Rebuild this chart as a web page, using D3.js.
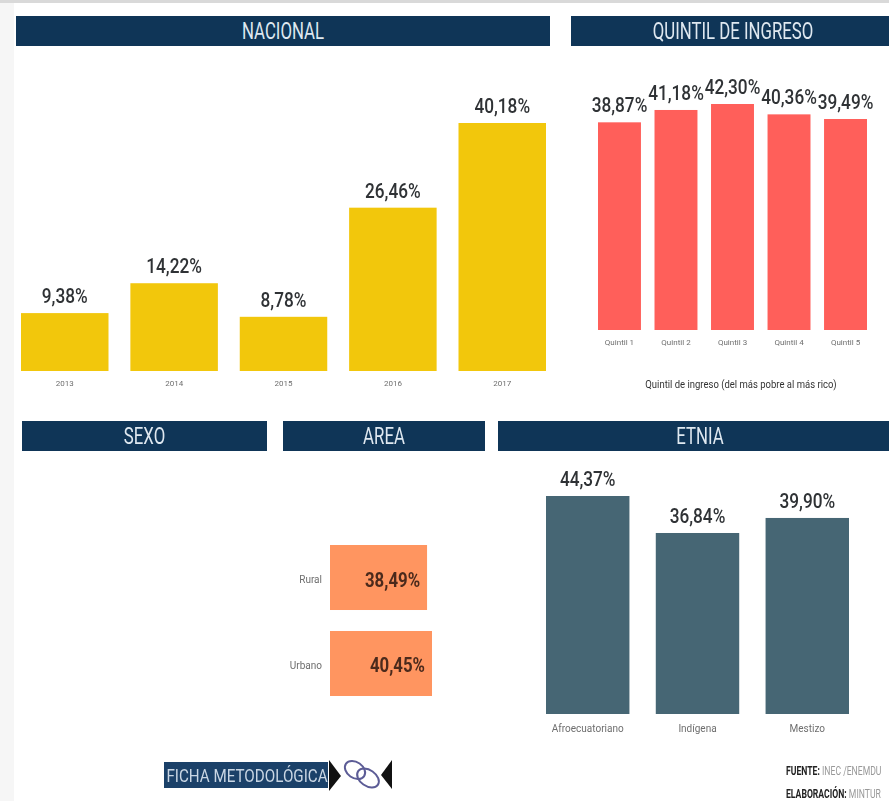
<!DOCTYPE html>
<html>
<head>
<meta charset="utf-8">
<script src="https://cdn.jsdelivr.net/npm/d3@7"></script>
<style>
	html, body { margin: 0; padding: 0; background: #ffffff; overflow: hidden; }
	svg { display: block; filter: blur(0.6px); }
	text { font-family: "Roboto", sans-serif; }
	.domain { display: none; }
</style>
</head>
<body>
<svg id="chart" width="889" height="801"></svg>
<script>
var years = ["2013", "2014", "2015", "2016", "2017"];
var yearValues = [9.38, 14.22, 8.78, 26.46, 40.18];

var quintiles = ["Quintil 1", "Quintil 2", "Quintil 3", "Quintil 4", "Quintil 5"];
var quintileValues = [38.87, 41.18, 42.30, 40.36, 39.49];

var ethnicities = ["Afroecuatoriano", "Indígena", "Mestizo"];
var ethnicityValues = [44.37, 36.84, 39.90];

var areas = ["Rural", "Urbano"];
var areaValues = [38.49, 40.45];

var headers = ["NACIONAL", "QUINTIL DE INGRESO", "SEXO", "AREA", "ETNIA"];

var svg = d3.select("#chart");
var esFormat = d3.formatLocale({ decimal: ",", thousands: ".", grouping: [3], currency: ["$", ""] }).format(".2f");

function percent(v) {
	return esFormat(v) + "%";
}

// The original font is a condensed one, so Roboto gets squeezed horizontally
function squeeze(x, y, ratio) {
	return "translate(" + x + "," + y + ") scale(" + ratio + ",1)";
}

// Page background, the faded strips on the left and top edges
svg.append("rect").attr("x", 0).attr("y", 0).attr("width", 14).attr("height", 801).attr("fill", "#f6f6f6");
svg.append("rect").attr("x", 0).attr("y", 0).attr("width", 889).attr("height", 3).attr("fill", "#d9d9d9");

function drawHeader(label, x, y, width) {
	svg.append("rect")
		.attr("x", x).attr("y", y)
		.attr("width", width).attr("height", 30)
		.attr("fill", "#0f3557");

	svg.append("text")
		.attr("transform", squeeze(x + width / 2, y + 23, 0.73))
		.attr("font-size", "23px")
		.attr("fill", "#dfe8f0")
		.style("text-anchor", "middle")
		.text(label);
}

drawHeader(headers[0], 16, 16, 534);
drawHeader(headers[1], 571, 16, 324);
drawHeader(headers[2], 22, 421, 245);
drawHeader(headers[3], 283, 421, 202);
drawHeader(headers[4], 498, 421, 404);

// Vertical bars with the value on top
function drawColumns(cats, values, left, right, inner, baseline, top, color, tickFont, tickPad) {
	var x = d3.scaleBand().domain(cats).range([left, right]).paddingInner(inner);
	var y = d3.scaleLinear().domain([0, d3.max(values)]).range([baseline, top]);

	var g = svg.append("g");

	g.selectAll("rect").data(values).enter().append("rect")
		.attr("x", function(d, i) { return x(cats[i]); })
		.attr("y", function(d) { return y(d); })
		.attr("width", x.bandwidth())
		.attr("height", function(d) { return baseline - y(d); })
		.attr("fill", color);

	g.selectAll(".value").data(values).enter().append("text")
		.attr("class", "value")
		.attr("transform", function(d, i) {
			return squeeze(x(cats[i]) + x.bandwidth() / 2, y(d) - 10, 0.82);
		})
		.attr("font-size", "21px")
		.attr("font-weight", "500")
		.attr("fill", "#2f3235")
		.style("text-anchor", "middle")
		.text(percent);

	var axis = svg.append("g")
		.attr("transform", "translate(0," + baseline + ")")
		.call(d3.axisBottom(x).tickSize(0).tickPadding(tickPad));

	axis.selectAll("text")
		.attr("font-size", tickFont)
		.attr("fill", "#6e6e6e")
		.style("font-family", "Roboto, sans-serif");
}

drawColumns(years, yearValues, 21, 546, 0.2, 371, 123, "#f2c70c", "8px", 9);
drawColumns(quintiles, quintileValues, 598, 867, 0.24, 330, 104, "#ff5f5a", "8px", 9);
drawColumns(ethnicities, ethnicityValues, 546, 849, 0.24, 714, 496, "#466674", "10px", 11);

// Horizontal bars for area, value sits inside the bar end
var areaLeft = 330;
var areaY = d3.scaleBand().domain(areas).range([545, 696]).paddingInner(0.244);
var areaX = d3.scaleLinear().domain([0, d3.max(areaValues)]).range([0, 102]);

var areaGroup = svg.append("g");

areaGroup.selectAll("rect").data(areaValues).enter().append("rect")
	.attr("x", areaLeft)
	.attr("y", function(d, i) { return areaY(areas[i]); })
	.attr("width", function(d) { return areaX(d); })
	.attr("height", areaY.bandwidth())
	.attr("fill", "#ff9560");

areaGroup.selectAll("text").data(areaValues).enter().append("text")
	.attr("transform", function(d, i) {
		return squeeze(areaLeft + areaX(d) - 7, areaY(areas[i]) + areaY.bandwidth() / 2 + 9, 0.8);
	})
	.attr("font-size", "21px")
	.attr("font-weight", "bold")
	.attr("fill", "#4b2a1c")
	.style("text-anchor", "end")
	.text(percent);

var areaAxis = svg.append("g")
	.attr("transform", "translate(" + areaLeft + ",2)")
	.call(d3.axisLeft(areaY).tickSize(0).tickPadding(8));

areaAxis.selectAll("text")
	.attr("font-size", "10px")
	.attr("fill", "#6e6e6e")
	.style("font-family", "Roboto, sans-serif");

// Axis title under the quintile chart
svg.append("text")
	.attr("transform", squeeze(741, 388, 0.95))
	.attr("font-size", "10px")
	.attr("fill", "#333333")
	.style("text-anchor", "middle")
	.text("Quintil de ingreso (del más pobre al más rico)");

// Ficha metodologica button
svg.append("rect").attr("x", 164).attr("y", 762).attr("width", 164).attr("height", 26).attr("fill", "#1b4169");
svg.append("text")
	.attr("transform", squeeze(247, 782, 0.8))
	.attr("font-size", "19px")
	.attr("fill", "#c9d6e4")
	.style("text-anchor", "middle")
	.text("FICHA METODOLÓGICA");

svg.append("path").attr("d", "M329,760 L341,776 L329,791 Z").attr("fill", "#111111");
svg.append("path").attr("d", "M392,760 L381,775 L392,789 Z").attr("fill", "#111111");

svg.append("ellipse")
	.attr("transform", "translate(355,770) rotate(35)")
	.attr("rx", 11).attr("ry", 8)
	.attr("fill", "none").attr("stroke", "#5c5c96").attr("stroke-width", 2);
svg.append("ellipse")
	.attr("transform", "translate(368,778) rotate(35)")
	.attr("rx", 12).attr("ry", 8)
	.attr("fill", "none").attr("stroke", "#5c5c96").attr("stroke-width", 2);

// Source notes, the picture crops them at the right edge so keep them tight
function drawNote(y, head, rest) {
	var note = svg.append("text")
		.attr("transform", squeeze(786, y, 0.72))
		.attr("font-size", "12px");
	note.append("tspan").attr("font-weight", "bold").attr("fill", "#222222").text(head);
	note.append("tspan").attr("fill", "#999999").text(rest);
}

drawNote(775, "FUENTE:", " INEC /ENEMDU");
drawNote(798, "ELABORACIÓN:", " MINTUR");
</script>
</body>
</html>
